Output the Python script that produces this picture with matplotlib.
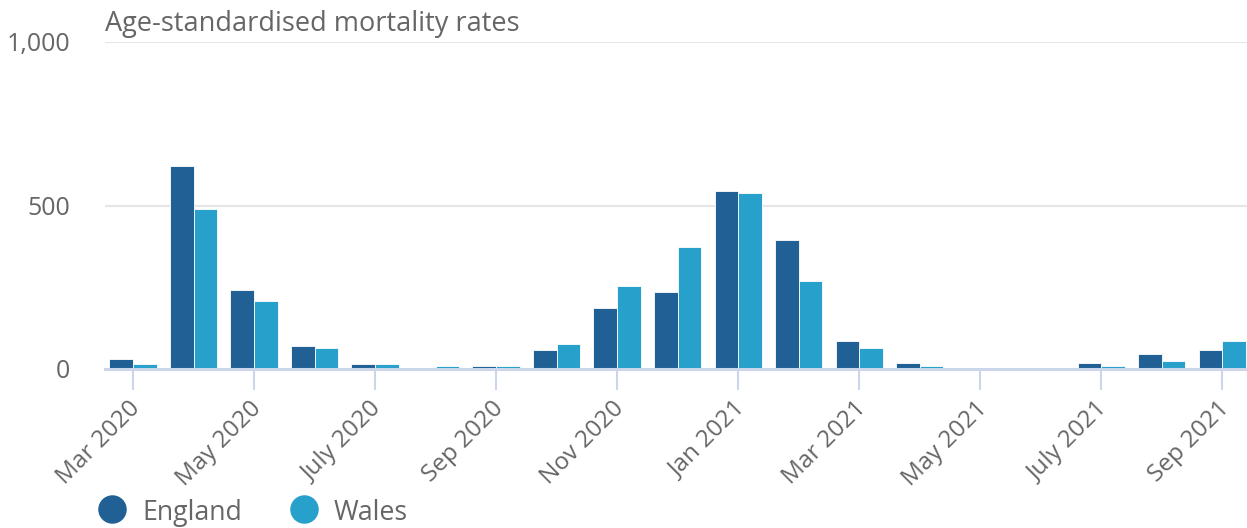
import numpy as np
import matplotlib
matplotlib.use('Agg')
import matplotlib.pyplot as plt
import matplotlib.transforms as mtransforms
from matplotlib.lines import Line2D

plt.rcParams['font.family'] = ['Open Sans', 'DejaVu Sans']

# monthly rates, Mar 2020 - Sep 2021
months = ['Mar 2020', 'Apr 2020', 'May 2020', 'Jun 2020', 'July 2020', 'Aug 2020',
          'Sep 2020', 'Oct 2020', 'Nov 2020', 'Dec 2020', 'Jan 2021', 'Feb 2021',
          'Mar 2021', 'Apr 2021', 'May 2021', 'Jun 2021', 'July 2021', 'Aug 2021',
          'Sep 2021']
england = [30, 621, 242, 70, 15, 0, 8, 58, 187, 236, 545, 395, 86, 18, 0, 0, 18, 46, 58]
wales = [15, 490, 208, 64, 15, 8, 8, 77, 254, 373, 539, 269, 64, 9, 0, 0, 8, 24, 86]
yticks = [0, 500, 1000]
ytick_labels = ['0', '500', '1,000']

c_eng = '#206095'
c_wal = '#27a0cc'
grey = '#666666'
axis_col = '#ccd6eb'

W, H = 1247, 528
fig = plt.figure(figsize=(W / 100, H / 100), dpi=100)
ax = fig.add_axes([105 / W, (H - 369) / H, (1247 - 105) / W, (369 - 42) / H])

x = np.arange(len(months))
bw = 0.39
ax.bar(x - bw / 2, england, width=bw, color=c_eng, edgecolor='white', linewidth=0.6, zorder=3)
ax.bar(x + bw / 2, wales, width=bw, color=c_wal, edgecolor='white', linewidth=0.6, zorder=3)

ax.set_xlim(-0.463, 18.41)
ax.set_ylim(0, 1000)

# gridlines
for yv in yticks[1:]:
    ax.axhline(yv, color='#e6e6e6', lw=1.5, zorder=1)
ax.axhline(0, color=axis_col, lw=2.2, zorder=4, clip_on=False)

for s in ax.spines.values():
    s.set_visible(False)

ax.set_yticks(yticks)
ax.set_yticklabels(ytick_labels, fontsize=18, color=grey)
ax.tick_params(axis='y', length=0, pad=25)

ax.set_xticks(x[::2])
ax.set_xticklabels(months[::2], rotation=45, ha='right', rotation_mode='anchor',
                   fontsize=17.5, color=grey)
ax.tick_params(axis='x', length=15, width=1.5, color=axis_col, pad=5)
# nudge the rotated labels a little to the left
shift = mtransforms.ScaledTranslation(-5 / 100, 0, fig.dpi_scale_trans)
for lbl in ax.get_xticklabels():
    lbl.set_transform(lbl.get_transform() + shift)

fig.text(105 / W, 1 - 24 / H, 'Age-standardised mortality rates', fontsize=19.5,
         color=grey, va='center', ha='left')

# legend at the bottom
for mx, tx, lab, col in [(112, 142, 'England', c_eng), (304, 334, 'Wales', c_wal)]:
    fig.add_artist(Line2D([mx / W], [1 - 509 / H], marker='o', markersize=19.5,
                          color=col, linestyle='none'))
    fig.text(tx / W, 1 - 513 / H, lab, fontsize=19.3, color=grey, va='center', ha='left')

fig.savefig('out.png', dpi=100)
